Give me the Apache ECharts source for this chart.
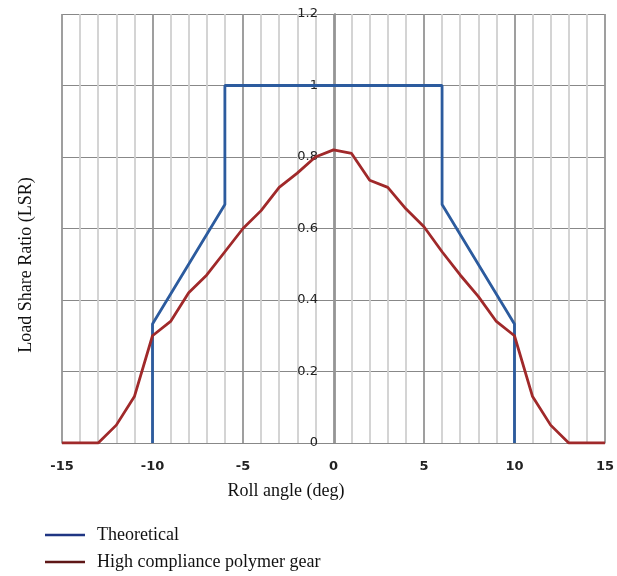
<!DOCTYPE html>
<html>
<head>
    <meta charset="UTF-8">
    <title>Load Share Ratio</title>
    <script src="https://cdn.jsdelivr.net/npm/echarts@6/dist/echarts.min.js"></script>
</head>
<body style="margin: 0; background: #fff;">
<div id="container" style="width: 617px; height: 576px;"></div>
<script type="text/javascript">
    // roll angle (deg) for the measured curve
    var rollAngle = [-15, -14, -13, -12, -11, -10, -9, -8, -7, -6, -5, -4, -3, -2, -1, 0,
        1, 2, 3, 4, 5, 6, 7, 8, 9, 10, 11, 12, 13, 14, 15];
    var polymerLSR = [0, 0, 0, 0.05, 0.13, 0.30, 0.34, 0.42, 0.47, 0.535, 0.60, 0.65, 0.715, 0.755, 0.80, 0.82,
        0.81, 0.735, 0.715, 0.655, 0.605, 0.535, 0.47, 0.41, 0.34, 0.30, 0.13, 0.05, 0, 0, 0];

    // theoretical step profile
    var theoAngle = [-10, -10, -6, -6, 6, 6, 10, 10];
    var theoLSR = [0, 0.333, 0.667, 1, 1, 0.667, 0.333, 0];

    var xTicks = [-15, -10, -5, 0, 5, 10, 15];
    var yTicks = [0, 0.2, 0.4, 0.6, 0.8, 1, 1.2];

    function pairs(xs, ys) {
        var out = [];
        for (var i = 0; i < xs.length; i++) {
            out.push([xs[i], ys[i]]);
        }
        return out;
    }

    var myChart = echarts.init(document.getElementById('container'));

    var option = {
        animation: false,
        grid: {left: 62, right: 9, top: 14, bottom: 133},
        legend: {
            orient: 'vertical',
            left: 45,
            top: 525,
            padding: 0,
            icon: 'rect',
            itemWidth: 40,
            itemHeight: 2.5,
            itemGap: 7,
            textStyle: {fontFamily: 'Liberation Serif', fontSize: 18, color: '#111', lineHeight: 20, padding: [0, 0, 0, 7]},
            data: [
                {name: 'Theoretical', itemStyle: {color: '#1f3583'}},
                {name: 'High compliance polymer gear', itemStyle: {color: '#5e1717'}}
            ]
        },
        graphic: [
            {
                type: 'text',
                x: 26, y: 265,
                rotation: Math.PI / 2,
                style: {
                    text: 'Load Share Ratio (LSR)',
                    fontFamily: 'Liberation Serif', fontSize: 18, fill: '#111',
                    align: 'center', verticalAlign: 'middle'
                }
            },
            {
                type: 'text',
                x: 286, y: 491,
                style: {
                    text: 'Roll angle (deg)',
                    fontFamily: 'Liberation Serif', fontSize: 18, fill: '#111',
                    align: 'center', verticalAlign: 'middle'
                }
            }
        ],
        xAxis: {
            type: 'value',
            min: -15,
            max: 15,
            interval: 5,
            axisLine: {show: true, lineStyle: {color: '#888'}},
            axisTick: {show: false},
            minorTick: {show: false, splitNumber: 5},
            axisLabel: {
                margin: 17, fontFamily: 'DejaVu Sans', fontSize: 13, fontWeight: 'bold', color: '#222',
                formatter: function (v) { return xTicks.indexOf(v) >= 0 ? String(v) : ''; }
            },
            splitLine: {show: true, lineStyle: {color: '#959595', width: 1.8}},
            minorSplitLine: {show: true, lineStyle: {color: '#d0d0d0', width: 1.8}}
        },
        yAxis: {
            type: 'value',
            min: 0,
            max: 1.2,
            interval: 0.2,
            position: 'left',
            offset: -273,
            axisLine: {show: true, onZero: false, lineStyle: {color: '#959595', width: 1.8}},
            axisTick: {show: false},
            axisLabel: {
                margin: 17, fontFamily: 'DejaVu Sans', fontSize: 13, color: '#222',
                formatter: function (v) {
                    for (var i = 0; i < yTicks.length; i++) {
                        if (Math.abs(yTicks[i] - v) < 1e-6) return String(yTicks[i]);
                    }
                    return '';
                }
            },
            splitLine: {show: true, lineStyle: {color: '#888', width: 1.2}}
        },
        series: [
            {
                name: 'Theoretical',
                type: 'line',
                symbol: 'none',
                lineStyle: {color: '#2c5b9e', width: 2.8},
                itemStyle: {color: '#2c5b9e'},
                data: pairs(theoAngle, theoLSR)
            },
            {
                name: 'High compliance polymer gear',
                type: 'line',
                symbol: 'none',
                lineStyle: {color: '#a0292a', width: 2.8},
                itemStyle: {color: '#a0292a'},
                data: pairs(rollAngle, polymerLSR)
            }
        ]
    };

    myChart.setOption(option);
</script>
</body>
</html>
